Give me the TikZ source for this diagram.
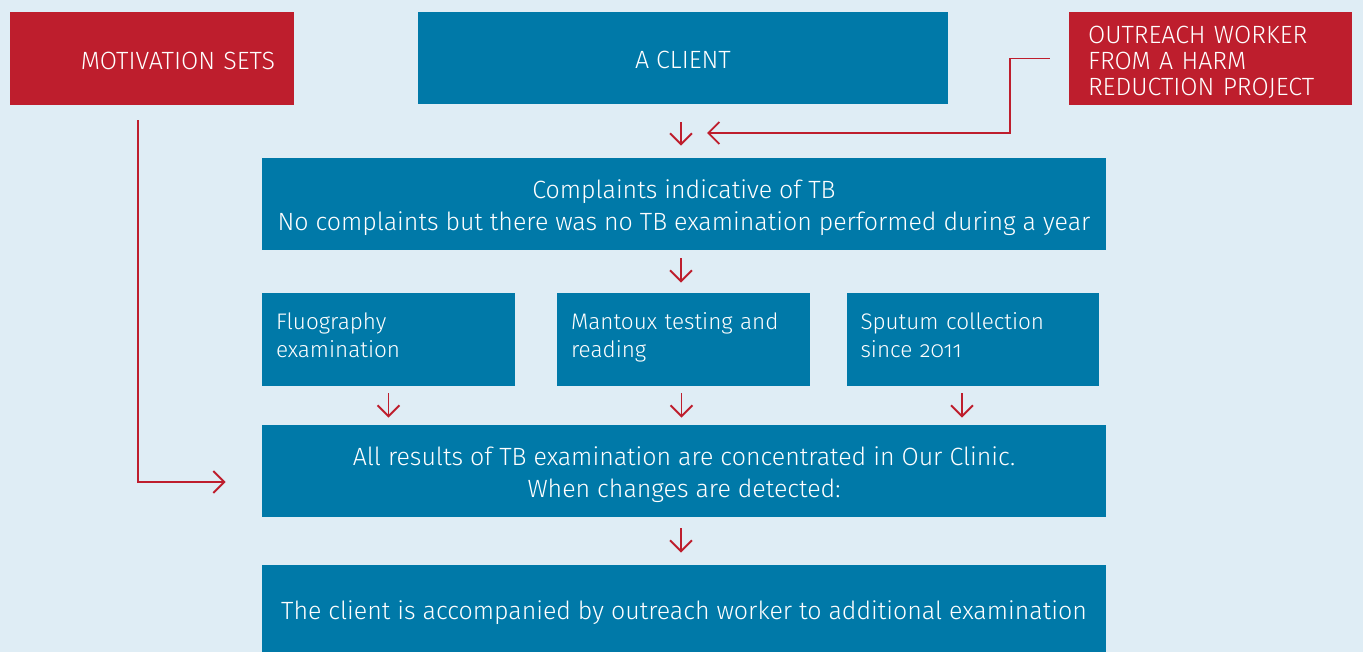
\documentclass[tikz,border=0pt]{standalone}
\usepackage{fontspec}
\setmainfont{Fira Sans}[UprightFont=* Light, Numbers=OldStyle]
\usetikzlibrary{arrows.meta}
\definecolor{tbblue}{HTML}{0079A8}
\definecolor{tbred}{HTML}{BE1E2D}
\definecolor{tbback}{HTML}{DFEDF5}

\begin{document}
\begin{tikzpicture}[
	struts/.style 2 args={execute at begin node={\rule{0pt}{#1}}, execute at end node={\rule[-#2]{0pt}{#2}}},
	bluebox/.style={rectangle, fill=tbblue, text=white, inner sep=0pt, font=\fontsize{14.2}{18.2}\selectfont, struts={15.7pt}{3.7pt}},
	twoline/.style={text width=16.86cm, align=flush center, struts={13.5pt}{3.7pt}},
	rowbox/.style={bluebox, minimum width=5.06cm, minimum height=1.86cm, text width=4.5cm, align=left, font=\fontsize{12.8}{16.4}\selectfont, struts={10.5pt}{11.2pt}},
	redbox/.style={rectangle, fill=tbred, text=white, inner sep=0pt, font=\fontsize{14.2}{14.8}\selectfont, struts={15.7pt}{3.7pt}},
	redarr/.style={draw=tbred, line width=1.1pt, -{Straight Barb[length=0.22cm, width=0.44cm, line width=1.1pt]}}]
			
			\fill[tbback] (0,0) rectangle (27.26,13.04);
			\useasboundingbox (0,0) rectangle (27.26,13.04);
			
			\node[redbox, minimum width=5.68cm, minimum height=1.86cm, text width=4.92cm, align=right] 
			(Motiv) at (3.04,11.87) {MOTIVATION SETS};
			
			\node[bluebox, minimum width=10.6cm, minimum height=1.84cm] 
			(Client) at (13.66,11.88) {A CLIENT};
			
			\node[redbox, minimum width=5.66cm, minimum height=1.86cm, text width=4.9cm, align=left] 
			(Outreach) at (24.21,11.87) {OUTREACH WORKER\\FROM A HARM\\REDUCTION PROJECT};
			
			\node[bluebox, twoline, minimum width=16.88cm, minimum height=1.84cm] 
			(Compl) at (13.68,8.96) {Complaints indicative of TB\\No complaints but there was no TB examination performed during a year};
			
			\node[rowbox] 
			(Fluo) at (7.77,6.25) {Fluography\\examination};
			
			\node[rowbox] 
			(Mantoux) at (13.67,6.25) {Mantoux testing and\\reading};
			
			\node[rowbox, minimum width=5.04cm] 
			(Sputum) at (19.46,6.25) {Sputum collection\\since 2011};
			
			\node[bluebox, twoline, minimum width=16.88cm, minimum height=1.84cm] 
			(Results) at (13.68,3.62) {All results of TB examination are concentrated in Our Clinic.\\When changes are detected:};
			
			\node[bluebox, minimum width=16.88cm, minimum height=1.74cm] 
			(Final) at (13.68,0.87) {The client is accompanied by outreach worker to additional examination};
			
			\coordinate (OutIn) at (14.14,10.38);
			
			\draw[redarr, shorten <=0.36cm, shorten >=0.24cm] ([xshift=-0.04cm]Client.south) -- ([xshift=-0.04cm]Client.south |- Compl.north);
			\draw[redarr, shorten <=0.38cm] (Outreach.west) -- ++(-1.18,0) |- (OutIn);
			
			\draw[redarr, shorten <=0.16cm, shorten >=0.2cm] ([xshift=-0.06cm]Compl.south) -- ([xshift=-0.06cm]Compl.south |- Mantoux.north);
			
			\draw[redarr, shorten <=0.14cm, shorten >=0.14cm] (Fluo.south) -- (Fluo.south |- Results.north);
			\draw[redarr, shorten <=0.14cm, shorten >=0.14cm] ([xshift=-0.04cm]Mantoux.south) -- ([xshift=-0.04cm]Mantoux.south |- Results.north);
			\draw[redarr, shorten <=0.14cm, shorten >=0.14cm] ([xshift=-0.22cm]Sputum.south) -- ([xshift=-0.22cm]Sputum.south |- Results.north);
			
			\draw[redarr, shorten <=0.3cm] ([xshift=-0.28cm]Motiv.south) |- ([xshift=-0.72cm,yshift=-0.22cm]Results.west);
			
			\draw[redarr, shorten <=0.22cm, shorten >=0.24cm] ([xshift=-0.06cm]Results.south) -- ([xshift=-0.06cm]Results.south |- Final.north);
			
		\end{tikzpicture}
\end{document}
